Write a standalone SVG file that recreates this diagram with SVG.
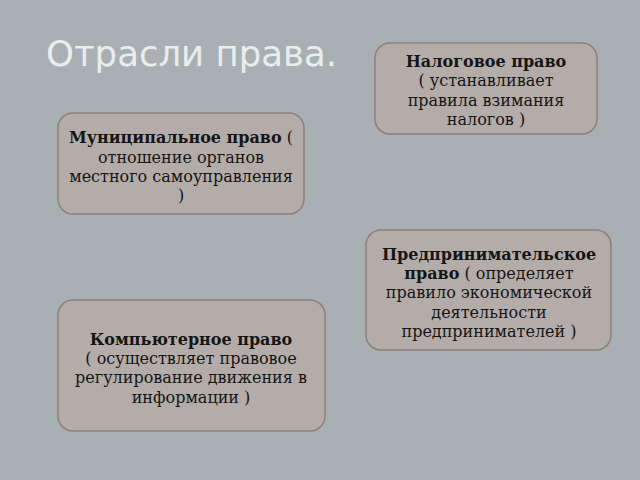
<svg xmlns="http://www.w3.org/2000/svg" width="640" height="480" viewBox="0 0 640 480">
<style>
.box{fill:#b4aca9;stroke:#8c807b;stroke-width:1.5}
.t{font-family:"DejaVu Serif",serif;font-size:16px;fill:#151515;text-anchor:middle}
.b{font-weight:bold}
.title{font-family:"DejaVu Sans",sans-serif;font-size:35.5px;fill:#e9edee}
</style>
<rect width="640" height="480" fill="#a8b0b3"/>
<text class="title" x="46" y="66">Отрасли права.</text>
<g id="nalog">
<rect class="box" x="375" y="43" width="222" height="91" rx="15"/>
<text class="t" x="486" y="67"><tspan class="b">Налоговое право</tspan></text>
<text class="t" x="486" y="86">( устанавливает</text>
<text class="t" x="486" y="106">правила взимания</text>
<text class="t" x="486" y="125">налогов )</text>
</g>
<g id="munic">
<rect class="box" x="58" y="113" width="246" height="101" rx="15"/>
<text class="t" x="181" y="143"><tspan class="b">Муниципальное право</tspan> (</text>
<text class="t" x="181" y="163">отношение органов</text>
<text class="t" x="181" y="182">местного самоуправления</text>
<text class="t" x="181" y="201">)</text>
</g>
<g id="predpr">
<rect class="box" x="366" y="230" width="245" height="120" rx="15"/>
<text class="t" x="489" y="260"><tspan class="b">Предпринимательское</tspan></text>
<text class="t" x="489" y="279"><tspan class="b">право</tspan> ( определяет</text>
<text class="t" x="489" y="298">правило экономической</text>
<text class="t" x="489" y="318">деятельности</text>
<text class="t" x="489" y="337">предпринимателей )</text>
</g>
<g id="komp">
<rect class="box" x="58" y="300" width="267" height="131" rx="15"/>
<text class="t" x="191" y="345"><tspan class="b">Компьютерное право</tspan></text>
<text class="t" x="191" y="364">( осуществляет правовое</text>
<text class="t" x="191" y="383">регулирование движения в</text>
<text class="t" x="191" y="403">информации )</text>
</g>
<g id="connectors"></g>
</svg>
